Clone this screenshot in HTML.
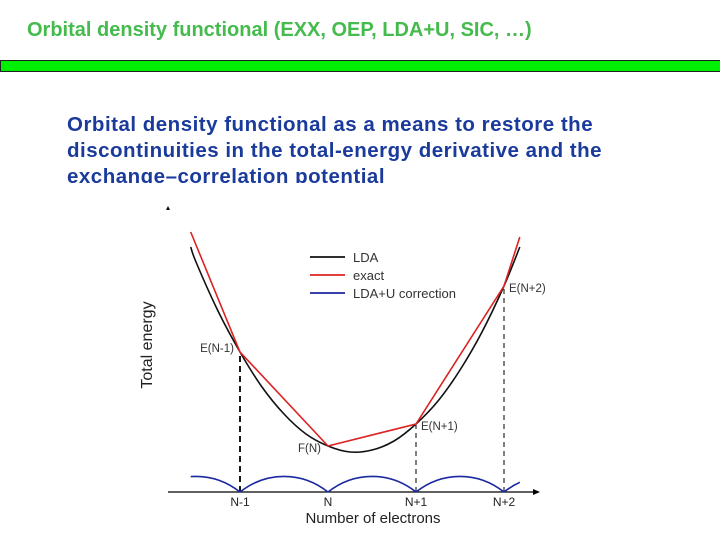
<!DOCTYPE html>
<html><head><meta charset="utf-8"><style>
body{margin:0;width:720px;height:540px;background:#fff;overflow:hidden;position:relative;font-family:"Liberation Sans",sans-serif}
#title{position:absolute;left:27px;top:19px;font-size:20px;font-weight:bold;color:#44bb4c;white-space:nowrap}
#bar{position:absolute;left:0;top:60px;width:722px;height:10px;background:#00ee00;border:1px solid #222;box-sizing:content-box}
#body{position:absolute;left:67px;top:112px;width:650px;height:71px;overflow:hidden;font-size:20.5px;font-weight:bold;color:#1a3a9c;line-height:26px;letter-spacing:0.5px;white-space:nowrap}
svg{position:absolute;left:0;top:0}
</style></head><body>
<div id="title">Orbital density functional (EXX, OEP, LDA+U, SIC, …)</div>
<div id="bar"></div>
<div id="body">Orbital density functional as a means to restore the<br>discontinuities in the total-energy derivative and the<br>exchange–correlation potential</div>
<svg id="chart" width="720" height="540"></svg>
<script>
const ticks=["N-1","N","N+1","N+2"];
const tickVals=[-1,0,1,2];
const exactN=[-1.56,-1,0,1,2,2.18];
const exactE=[260,140,46,68,206,255];
const ldaN=[-1.56,-1.5,-1.25,-1,-0.75,-0.5,-0.25,0,0.25,0.5,0.75,1,1.25,1.5,1.75,2,2.18];
const ldaE=[245,230,181,140,105,78,58,46,40,42,51,68,91,122,160,206,245];
// LDA+U correction arcs: start/end N of each arc and its peak height
const arcStart=[-2,-1,0,1,2];
const arcEnd=[-1,0,1,2,3];
const arcPeak=[16,16,16,16,16];
const pointLabels=["E(N-1)","F(N)","E(N+1)","E(N+2)"];
const pointN=[-1,0,1,2];
const pointE=[140,46,68,206];

const X=n=>328+88*n, Y=e=>492-e;
const s=document.getElementById('chart'),NS="http://www.w3.org/2000/svg";
function mk(t,a,p){const e=document.createElementNS(NS,t);for(const k in a)e.setAttribute(k,a[k]);(p||s).appendChild(e);return e;}
function poly(ns,es){return ns.map((n,i)=>X(n).toFixed(1)+","+Y(es[i]).toFixed(1)).join(" ");}
function smooth(ns,es){const p=ns.map((n,i)=>[X(n),Y(es[i])]);let d="M"+p[0][0]+","+p[0][1];
 for(let i=0;i<p.length-1;i++){const p0=p[i-1]||p[i],p1=p[i],p2=p[i+1],p3=p[i+2]||p2;
  const c1=[p1[0]+(p2[0]-p0[0])/6,p1[1]+(p2[1]-p0[1])/6],c2=[p2[0]-(p3[0]-p1[0])/6,p2[1]-(p3[1]-p1[1])/6];
  d+=` C${c1[0].toFixed(1)},${c1[1].toFixed(1)} ${c2[0].toFixed(1)},${c2[1].toFixed(1)} ${p2[0].toFixed(1)},${p2[1].toFixed(1)}`;}
 return d;}
const defs=mk('defs',{});const cp=mk('clipPath',{id:'uclip'},defs);mk('rect',{x:X(-1.56),y:400,width:X(2.18)-X(-1.56),height:100},cp);
let ax=mk('line',{x1:168,y1:492,x2:535,y2:492,stroke:'#000','stroke-width':1.2});

let ar=mk('polygon',{points:'540,492 533,489 533,495',fill:'#000'});

let ya=mk('polygon',{points:'168,206 166,210 170,210',fill:'#000'});

[-1,1,2].forEach(n=>{const j=pointN.indexOf(n);
 const d=mk('line',{x1:X(n),y1:492,x2:X(n),y2:Y(pointE[j]),stroke:'#000','stroke-width':n==-1?1.8:1,'stroke-dasharray':n==-1?'6,4':'5,4'});
 });
let l=mk('path',{d:smooth(ldaN,ldaE),fill:'none',stroke:'#111','stroke-width':1.6});

let r=mk('polyline',{points:poly(exactN,exactE),fill:'none',stroke:'#dd2222','stroke-width':1.6});

arcStart.forEach((a,i)=>{const b=arcEnd[i],h=arcPeak[i];
 const x0=X(a),x1=X(b),y0=Y(0);
 const d=`M${x0},${y0} C${X(a+(b-a)*0.3)},${Y(h*1.3)} ${X(b-(b-a)*0.3)},${Y(h*1.3)} ${x1},${y0}`;
 const p=mk('path',{d:d,fill:'none',stroke:'#1a2aa0','stroke-width':1.6,'clip-path':'url(#uclip)'});
 });
ticks.forEach((t,i)=>{const e=mk('text',{x:X(tickVals[i]),y:506,'font-size':12,'text-anchor':'middle',fill:'#222'});e.textContent=t;
 });
const off=[[-6,0,'end'],[-7,6,'end'],[5,6,'start'],[5,6,'start']];
pointLabels.forEach((t,i)=>{const e=mk('text',{x:X(pointN[i])+off[i][0],y:Y(pointE[i])+off[i][1],'font-size':11.5,'text-anchor':off[i][2],fill:'#333'});e.textContent=t;
 });
const lg=[["LDA","#111"],["exact","#dd2222"],["LDA+U correction","#1a2aa0"]];
lg.forEach((g,i)=>{const y=257+18*i;
 const ln=mk('line',{x1:310,y1:y,x2:345,y2:y,stroke:g[1],'stroke-width':1.8});
 
 const t=mk('text',{x:353,y:y+5,'font-size':13,fill:'#333'});t.textContent=g[0];
 });
let xt=mk('text',{x:373,y:523,'font-size':15,'text-anchor':'middle',fill:'#222'});xt.textContent="Number of electrons";

let yt=mk('text',{x:152,y:345,'font-size':16,'text-anchor':'middle',fill:'#222',transform:'rotate(-90 152 345)'});yt.textContent="Total energy";

</script>
</body></html>
